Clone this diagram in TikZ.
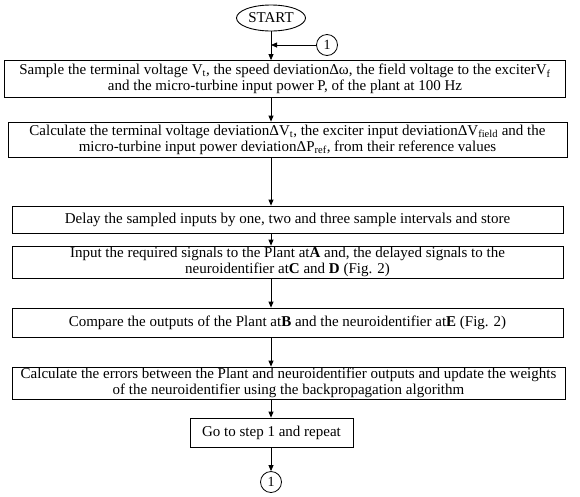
\documentclass[tikz,border=0pt]{standalone}
\usepackage{fontspec}
\setmainfont{Liberation Serif}
\usetikzlibrary{arrows.meta,shapes.geometric}
\tikzset{
  box/.style={draw, line width=0.8pt, rectangle, align=center, inner sep=0pt, font=\fontsize{15}{16}\selectfont},
  conn/.style={draw, line width=0.8pt, circle, minimum size=21pt, inner sep=0pt, font=\fontsize{14}{15}\selectfont},
  arr/.style={line width=0.8pt, -{Triangle[length=6pt,width=5pt]}},
}
\begin{document}
\begin{tikzpicture}[x=1pt,y=-1pt]
\useasboundingbox (0,0) rectangle (580,496);
\node[draw, line width=0.9pt, ellipse, minimum width=69pt, minimum height=26pt, inner sep=0pt, font=\fontsize{15}{16}\selectfont] (st) at (271,18) {START};
\node[conn] (c1) at (327,45) {1};
\coordinate (j) at (271,45);
\node[box, minimum width=561pt, minimum height=37pt] (b1) at (285,79)
  {Sample the terminal voltage V\textsubscript{t}, the speed deviationΔω, the field voltage to the exciterV\textsubscript{f}\\ and the micro-turbine input power P, of the plant at 100 Hz};
\node[box, minimum width=559pt, minimum height=35pt] (b2) at (287.5,139.5)
  {Calculate the terminal voltage deviationΔV\textsubscript{t}, the exciter input deviationΔV\textsubscript{field} and the\\ micro-turbine input power deviationΔP\textsubscript{ref}, from their reference values};
\node[box, minimum width=551pt, minimum height=27pt] (b3) at (287.5,219.5)
  {Delay the sampled inputs by one, two and three sample intervals and store};
\node[box, minimum width=551pt, minimum height=32pt] (b4) at (287.5,262)
  {Input the required signals to the Plant at\textbf{A} and, the delayed signals to the\\ neuroidentifier at\textbf{C} and \textbf{D} (Fig. 2)};
\node[box, minimum width=551pt, minimum height=29pt] (b5) at (287.5,322.5)
  {Compare the outputs of the Plant at\textbf{B} and the neuroidentifier at\textbf{E} (Fig. 2)};
\node[box, minimum width=553pt, minimum height=32pt] (b6) at (288.5,383)
  {Calculate the errors between the Plant and neuroidentifier outputs and update the weights\\ of the neuroidentifier using the backpropagation algorithm};
\node[box, minimum width=163pt, minimum height=29pt] (b7) at (271.5,432.5)
  {Go to step 1 and repeat};
\node[conn] (c2) at (271,482) {1};
\draw[arr] (st.south) -- (b1.north -| st.south);
\draw[arr] (c1.west) -- (j);
\draw[arr] (b1.south -| st.south) -- (b2.north -| st.south);
\draw[arr] (b2.south -| st.south) -- (b3.north -| st.south);
\draw[arr] (b3.south -| st.south) -- (b4.north -| st.south);
\draw[arr] (b4.south -| st.south) -- (b5.north -| st.south);
\draw[arr] (b5.south -| st.south) -- (b6.north -| st.south);
\draw[arr] (b6.south -| st.south) -- (b7.north -| st.south);
\draw[arr] (b7.south -| st.south) -- (c2.north);
\end{tikzpicture}
\end{document}
